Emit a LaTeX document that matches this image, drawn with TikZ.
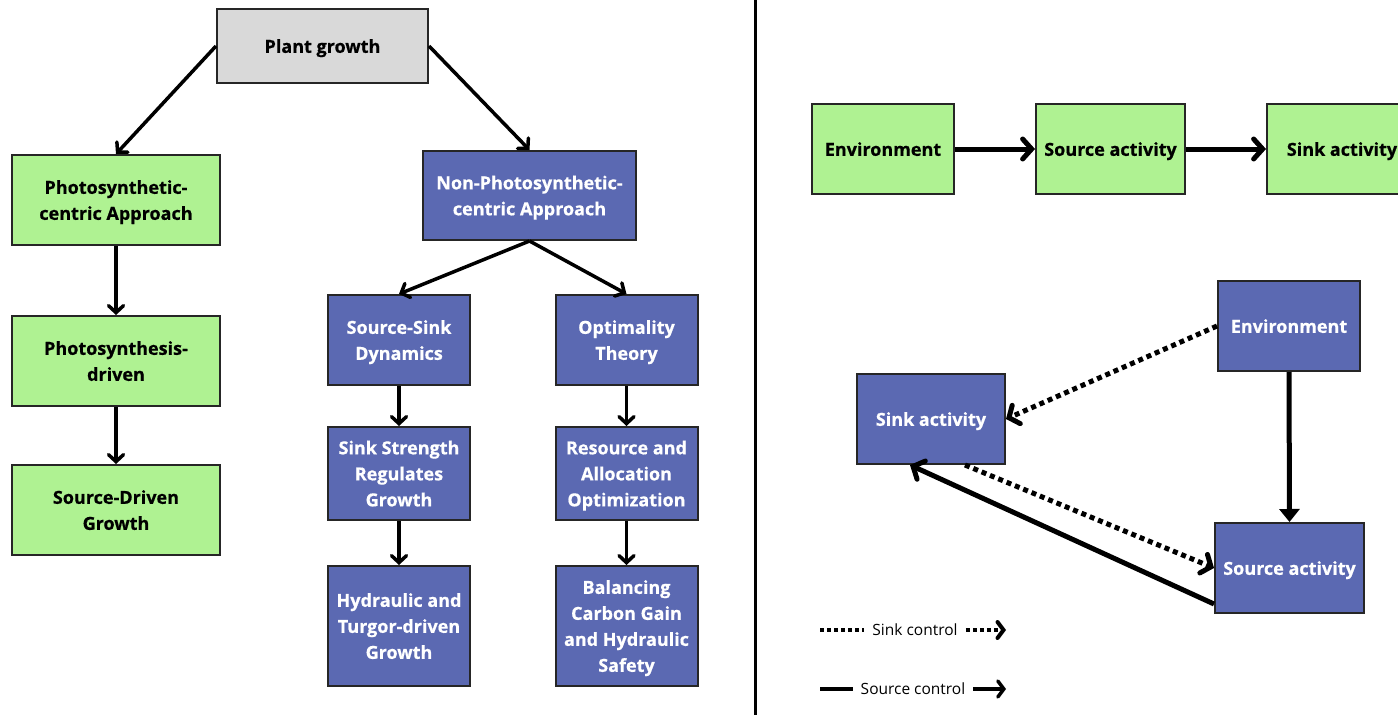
\documentclass[tikz,border=0pt]{standalone}
\usepackage{fontspec}
\setmainfont{Open Sans}[BoldFeatures={FakeBold=0.6}]
\usepackage{tikz}
\usetikzlibrary{arrows.meta,positioning}
\definecolor{leafgreen}{HTML}{AFF292}
\definecolor{plantblue}{HTML}{5B69B2}
\definecolor{rootgray}{HTML}{D9D9D9}

\begin{document}
\begin{tikzpicture}[x=1pt,y=-1pt, every node/.style={font=\fontsize{18}{26}\selectfont\bfseries,align=center}, box/.style={draw=black!85,line width=2pt,inner sep=2pt,minimum height=90pt,text depth=0pt}, greenbox/.style={box,fill=leafgreen,text=black}, bluebox/.style={box,fill=plantblue,text=white}, link/.style={line width=3.5pt,-{Straight Barb[length=7pt,width=15pt,line cap=round]}}, bold/.style={line width=5pt,-{Straight Barb[length=9pt,width=20pt,line cap=round]}}, sinkdots/.style={line width=5pt,dash pattern=on 5pt off 4pt,-{Straight Barb[length=8pt,width=20pt,line cap=round]}}, keytext/.style={font=\fontsize{15.5}{17}\selectfont,inner xsep=8pt}]
\useasboundingbox (0,0) rectangle (1398,715);
\draw[line width=3pt] (755,0)--(755,715);
% left: two approaches
\node[box,fill=rootgray,minimum width=211pt,minimum height=74pt] (plant) at (322.5,46) {Plant growth};
\node[greenbox,minimum width=208pt] (photo) at (116,200) {Photosynthetic-\\centric Approach};
\node[greenbox,minimum width=208pt] (photodriven) at (116,361) {Photosynthesis-\\driven};
\node[greenbox,minimum width=208pt] (sourcedriven) at (116,510) {Source-Driven\\Growth};
\node[bluebox,minimum width=213pt,minimum height=89pt] (nonphoto) at (529.5,195.5) {Non-Photosynthetic-\\centric Approach};
\node[bluebox,minimum width=142pt] (ssdyn) at (399,340) {Source-Sink\\Dynamics};
\node[bluebox,minimum width=142pt] (optim) at (626.5,340) {Optimality\\Theory};
\node[bluebox,minimum width=142pt,minimum height=93pt] (sinkstr) at (399,473.5) {Sink Strength\\Regulates\\Growth};
\node[bluebox,minimum width=142pt,minimum height=93pt] (resalloc) at (626.5,473.5) {Resource and\\Allocation\\Optimization};
\node[bluebox,minimum width=142pt,minimum height=120pt] (hydr) at (399,626) {Hydraulic and\\Turgor-driven\\Growth};
\node[bluebox,minimum width=142pt,minimum height=120pt] (balance) at (626.5,626) {Balancing\\Carbon Gain\\and Hydraulic\\Safety};
\draw[link] (plant.west)--(photo.north);\draw[link] (plant.east)--(nonphoto.north);
\draw[link] (photo)--(photodriven);\draw[link] (photodriven)--(sourcedriven);
\draw[link] (nonphoto.south)--(ssdyn.north);\draw[link] (nonphoto.south)--(optim.north);
\draw[link] (ssdyn)--(sinkstr);\draw[link] (sinkstr)--(hydr);
\draw[link] (optim)--(resalloc);\draw[link] (resalloc)--(balance);
% right: source-driven chain and sink control loop
\node[greenbox,minimum width=142pt] (envA) at (883,149) {Environment};
\node[greenbox,minimum width=149pt] (srcA) at (1110.5,149) {Source activity};
\node[greenbox,minimum width=150pt] (sinkA) at (1342,149) {Sink activity};
\draw[bold] (envA)--(srcA);\draw[bold] (srcA)--(sinkA);
\node[bluebox,minimum width=142pt] (envB) at (1289,326) {Environment};
\node[bluebox,minimum width=148pt] (sinkB) at (931,419) {Sink activity};
\node[bluebox,minimum width=149pt] (srcB) at (1289.5,568) {Source activity};
\draw[line width=5pt,-{Triangle[length=13pt,width=20pt]}] (envB.south)--(srcB.north);
\draw[sinkdots] (envB.west)--(sinkB.east);
\draw[sinkdots] ([xshift=34pt]sinkB.south)--(srcB.west);
\draw[bold] ([yshift=10pt]srcB.south west)--([xshift=-21pt]sinkB.south);
% legend
\coordinate (sinkL) at (820,630);\coordinate (sinkR) at (1006,630);
\coordinate (srcL) at (820,689);\coordinate (srcR) at (1006,689);
\node[keytext] (sinklabel) at (915,630) {Sink control};
\node[keytext] (srclabel) at (913,689) {Source control};
\draw[line width=4pt,dash pattern=on 4pt off 3pt] (sinkL)--(sinklabel.west);
\draw[line width=4pt,dash pattern=on 4pt off 3pt,-{Straight Barb[length=6pt,width=16pt,line cap=round]}] (sinklabel.east)--(sinkR);
\draw[line width=3.5pt] (srcL)--(srclabel.west);
\draw[line width=3.5pt,-{Straight Barb[length=6pt,width=16pt,line cap=round]}] (srclabel.east)--(srcR);
\end{tikzpicture}
\end{document}
